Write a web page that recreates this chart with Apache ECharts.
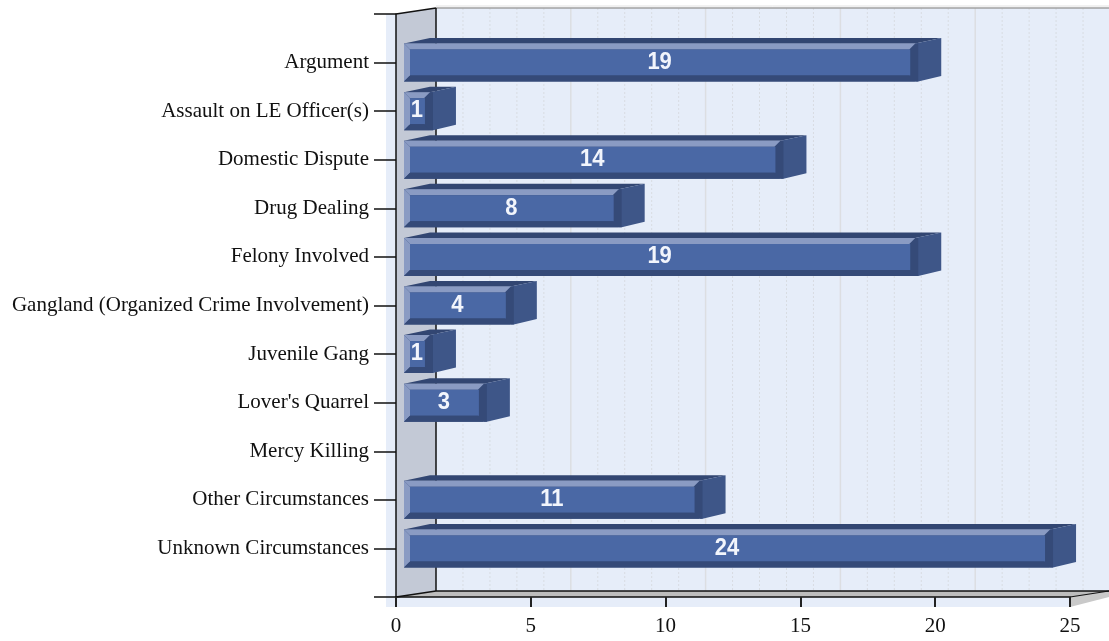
<!DOCTYPE html>
<html><head><meta charset="utf-8">
<style>html,body{margin:0;padding:0;background:#fff}#c{width:1109px;height:641px}</style>
<script src="https://cdn.jsdelivr.net/npm/echarts@6/dist/echarts.min.js"></script>
</head><body><div id="c"></div>
<script>
const categories = ['Argument','Assault on LE Officer(s)','Domestic Dispute','Drug Dealing','Felony Involved','Gangland (Organized Crime Involvement)','Juvenile Gang',"Lover's Quarrel",'Mercy Killing','Other Circumstances','Unknown Circumstances'];
const values = [19,1,14,8,19,4,1,3,0,11,24];
const axisTicks = [0,5,10,15,20,25];
const minorTicks = [1,2,3,4,6,7,8,9,11,12,13,14,16,17,18,19,21,22,23,24];
const axisCats = [''].concat(categories, ['']);
const DX = 40, DY = -6;

const chart = echarts.init(document.getElementById('c'), null, {renderer:'canvas'});

function renderScene(params, api){
  const x0 = api.coord([0,0])[0], x25 = api.coord([25,0])[0];
  const yT = api.coord([0,0])[1], yB = api.coord([0,12])[1];
  const ch = [];
  const poly = (pts, fill) => ch.push({type:'polygon', shape:{points:pts}, style:{fill:fill}});
  const line = (a,b,c,d,col,w,dash) => ch.push({type:'line', shape:{x1:a,y1:b,x2:c,y2:d}, style:{stroke:col,lineWidth:w,lineDash:dash||null}});
  const R = 1109;
  poly([[x0-10,yT],[x0,yT],[x0+DX,yT+DY],[R,yT+DY],[R,yB+DY],[x25,yB+10],[x0-10,yB+10]], '#e6edf9');
  poly([[x25,yB],[R,yB+DY],[R,yB],[x25,yB+10]], '#c9c9c9');
  minorTicks.forEach(v => { const x = api.coord([v,0])[0]+DX; line(x,yT+DY,x,yB+DY,'#d8dce2',1,[2,2]); });
  axisTicks.slice(1).forEach(v => { const x = api.coord([v,0])[0]+DX; line(x,yT+DY,x,yB+DY,'#dcdee2',1.5); });
  line(x0+DX,yT+DY-2,R,yT+DY-2,'#e2e2e2',1);
  line(x0+DX,yT+DY,R,yT+DY,'#a0a0a0',1.5);
  poly([[x0,yT],[x0+DX,yT+DY],[x0+DX,yB+DY],[x0,yB]], '#c3c9d6');
  poly([[x0,yB],[x0+DX,yB+DY],[R,yB+DY],[x25,yB]], '#bdbdbd');
  line(x0+DX,yT+DY,x0+DX,yB+DY,'#111',1.5);
  line(x0,yT,x0+DX,yT+DY,'#111',1.5);
  line(x0,yB,x0+DX,yB+DY,'#111',1.5);
  line(x0+DX,yB+DY,R,yB+DY,'#111',1.5);
  line(x25,yB,R,yB+DY,'#111',1.2);
  return {type:'group', children:ch};
}

function renderBar(params, api){
  const v = api.value(0);
  if(!v) return null;
  const SX = 8, H = 19, DEP = 26, UP = 5.5, B = 6;
  const p = api.coord([v, api.value(1)]);
  const l = api.coord([0, api.value(1)])[0] + SX, r = p[0] + SX - 1;
  const cy = p[1], t = cy - H, b = cy + H;
  const poly = (pts, fill) => ({type:'polygon', shape:{points:pts}, style:{fill:fill}});
  return {type:'group', children:[
    poly([[l,t],[l+DEP,t-UP],[r+DEP,t-UP],[r,t]], '#324672'),
    poly([[r,t],[r+DEP,t-UP],[r+DEP,b-UP],[r+3,b],[r,b]], '#3e5688'),
    {type:'rect', shape:{x:l,y:t,width:r-l+3,height:2*H}, style:{fill:'#354a78'}},
    poly([[l,t],[r,t],[r-B,t+B],[l+B,t+B]], '#8a9bc3'),
    poly([[l,t],[l+B,t+B],[l+B,b-B],[l,b]], '#8a9bc3'),
    {type:'rect', shape:{x:l+B,y:t+B,width:r-l-B-B+1,height:2*H-2*B}, style:{fill:'#4a68a5'}},
    poly([[l,b],[l+B,b-B],[r-B,b-B],[r,b]], '#354a78'),
    {type:'text', x:(l+r)/2, y:cy-0.5, scaleY:1.1, style:{text:String(v), x:0, y:0, align:'center', verticalAlign:'middle',
      fill:'#f2f5fc', font:'bold 22px "Liberation Sans", Arial, sans-serif'}}
  ]};
}

chart.setOption({
  animation:false,
  backgroundColor:'#fff',
  grid:{left:396, top:14, width:674, height:583, containLabel:false},
  xAxis:{type:'value', min:0, max:25, interval:5, position:'bottom', z:10,
    splitLine:{show:false},
    axisLine:{show:true,onZero:false,lineStyle:{color:'#111',width:1.5}},
    axisTick:{show:true,length:10,lineStyle:{color:'#222',width:2}},
    axisLabel:{show:true,margin:19,color:'#111',fontFamily:'"Liberation Serif",serif',fontSize:21}},
  yAxis:{type:'category', inverse:true, boundaryGap:false, data:axisCats, z:10,
    axisLine:{show:true,onZero:false,lineStyle:{color:'#111',width:1.5}},
    axisTick:{show:true,length:22,interval:0,lineStyle:{color:'#111',width:1.5}},
    axisLabel:{show:true,interval:0,margin:27,verticalAlign:'middle',lineHeight:24,padding:[3,0,0,0],color:'#111',fontFamily:'"Liberation Serif",serif',fontSize:21},
    splitLine:{show:false}},
  series:[
    {type:'custom', z:1, silent:true, clip:false, coordinateSystem:'cartesian2d', data:[[0,0]], renderItem:renderScene, encode:{x:0,y:1}},
    {type:'custom', z:3, silent:true, clip:false, coordinateSystem:'cartesian2d',
      data:values.map((v,i)=>[v,i+1]), renderItem:renderBar, encode:{x:0,y:1}}
  ]
});
</script></body></html>
